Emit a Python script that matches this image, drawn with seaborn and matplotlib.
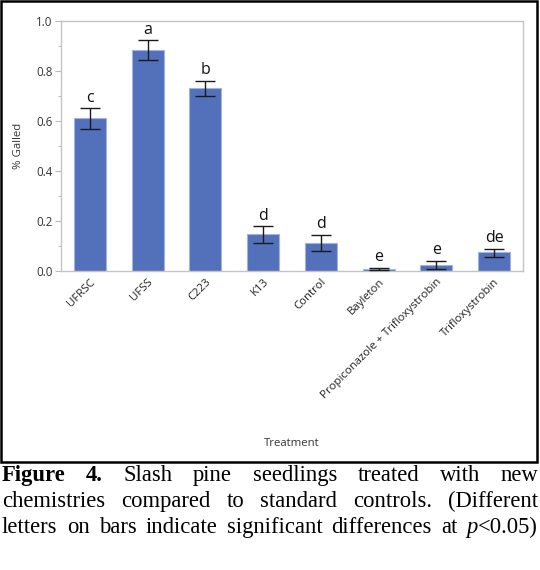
import matplotlib
matplotlib.use("Agg")
import matplotlib.pyplot as plt
import seaborn as sns
import pandas as pd
import numpy as np
from matplotlib.patches import Rectangle

# ---------------- data ----------------
treatments = ["UFRSC", "UFSS", "C223", "K13", "Control", "Bayleton",
              "Propiconazole + Trifloxystrobin", "Trifloxystrobin"]
means = [0.610, 0.885, 0.733, 0.146, 0.113, 0.009, 0.024, 0.075]
err_low = [0.567, 0.843, 0.700, 0.112, 0.080, 0.005, 0.007, 0.057]
err_high = [0.650, 0.922, 0.760, 0.178, 0.144, 0.013, 0.040, 0.088]
letters = ["c", "a", "b", "d", "d", "e", "e", "de"]
y_ticks = [0.0, 0.2, 0.4, 0.6, 0.8, 1.0]
y_tick_labels = ["0.0", "0.2", "0.4", "0.6", "0.8", "1.0"]
y_label = "% Galled"
x_label = "Treatment"
caption_lines = [
    [[("Figure", "bold", "normal")], [("4.", "bold", "normal")], [("Slash", "normal", "normal")],
     [("pine", "normal", "normal")], [("seedlings", "normal", "normal")], [("treated", "normal", "normal")],
     [("with", "normal", "normal")], [("new", "normal", "normal")]],
    [[(w, "normal", "normal")] for w in
     "chemistries compared to standard controls. (Different".split()],
    [[(w, "normal", "normal")] for w in
     "letters on bars indicate significant differences at".split()]
    + [[("p", "normal", "italic"), ("<0.05)", "normal", "normal")]],
]

# ---------------- style ----------------
sns.set_theme(style="white")
plt.rcParams['font.family'] = ['Open Sans', 'DejaVu Sans']

W, H = 540, 570
fig = plt.figure(figsize=(W / 100, H / 100), dpi=100)
fig.patch.set_facecolor("white")

ax = fig.add_axes([61 / W, 1 - 271 / H, 462 / W, 250 / H])
df = pd.DataFrame({"Treatment": treatments, "Galled": means})
sns.barplot(data=df, x="Treatment", y="Galled", color="#5271BA", saturation=1,
            width=0.55, edgecolor="#A3B3DE", linewidth=0.8, ax=ax, errorbar=None)

xpos = np.arange(len(treatments))
m = np.array(means)
ax.errorbar(xpos, m, yerr=[m - np.array(err_low), np.array(err_high) - m],
            fmt='none', ecolor='#1a1a1a', elinewidth=1.0, capsize=7.5, capthick=1.0, zorder=5)
for xi, hi, l in zip(xpos, err_high, letters):
    ax.text(xi, hi + 0.026, l, ha='center', va='baseline', fontsize=11.5, color='#111111')

ax.set_xlim(-0.5, len(treatments) - 0.5)
ax.set_ylim(0, 1.0)
ax.set_yticks(y_ticks)
ax.set_yticklabels(y_tick_labels)
ax.set_yticks(np.arange(0.1, 1.0, 0.2), minor=True)
ax.tick_params(axis='y', which='major', direction='out', length=4, width=0.8,
               color='#BBBBBB', labelsize=8.3, labelcolor='#333333', pad=2, left=True)
ax.tick_params(axis='y', which='minor', direction='out', length=2.5, width=0.8,
               color='#BBBBBB', left=True)
ax.tick_params(axis='x', length=0, pad=4)
ax.set_xticks(xpos)
ax.set_xticklabels(treatments, rotation=45, ha='right', rotation_mode='anchor',
                   fontsize=8.2, color='#222222')
for sp in ax.spines.values():
    sp.set_visible(True)
    sp.set_color('#C4C4C4')
    sp.set_linewidth(1.0)

ax.set_ylabel(y_label, fontsize=8.2, color='#333333')
ax.yaxis.set_label_coords(-0.08, 0.5)
ax.set_xlabel(x_label, fontsize=8.2, color='#333333')
ax.xaxis.set_label_coords(0.5, -0.668)

# black frame around chart
fig.patches.append(Rectangle((1 / W, 1 - 462 / H), 536 / W, 461 / H, transform=fig.transFigure,
                             fill=False, edgecolor='black', linewidth=1.8))

# ---------------- justified caption ----------------
renderer = fig.canvas.get_renderer()
cap_font = ['Liberation Serif', 'DejaVu Serif']
cap_size = 16.3
left_px, right_px = 2, 538
baselines = [481, 507, 533]
for tokens, base in zip(caption_lines, baselines):
    widths = []
    for tok in tokens:
        w = 0
        for txt, wt, st in tok:
            t = fig.text(0, 0, txt, fontsize=cap_size, family=cap_font, weight=wt, style=st)
            w += t.get_window_extent(renderer).width
            t.remove()
        widths.append(w)
    gap = max((right_px - left_px - sum(widths)) / (len(tokens) - 1), 3)
    x = left_px
    for tok, w in zip(tokens, widths):
        xx = x
        for txt, wt, st in tok:
            t = fig.text(xx / W, 1 - base / H, txt, fontsize=cap_size, family=cap_font,
                         weight=wt, style=st, va='baseline', ha='left', color='black')
            xx += t.get_window_extent(renderer).width
        x += w + gap

fig.savefig("out.png", dpi=100)
